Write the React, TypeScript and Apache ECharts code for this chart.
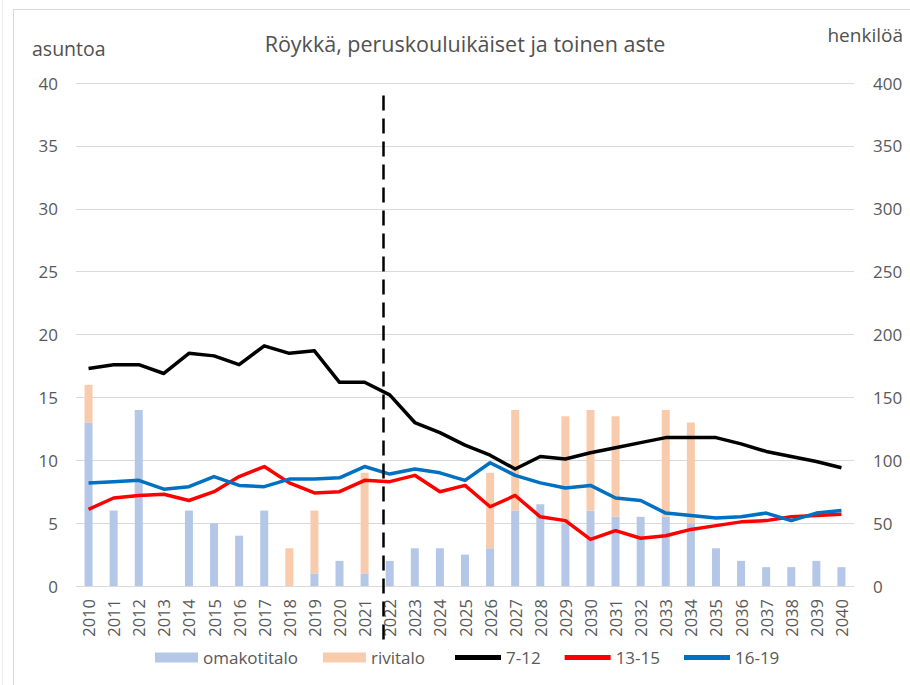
import React, { useEffect, useRef } from "react";
import * as echarts from "echarts";

const years = [
  "2010","2011","2012","2013","2014","2015","2016","2017","2018","2019","2020",
  "2021","2022","2023","2024","2025","2026","2027","2028","2029","2030",
  "2031","2032","2033","2034","2035","2036","2037","2038","2039","2040",
];

// left axis (asuntoa)
const omakotitalo = [13, 6, 14, 0, 6, 5, 4, 6, 0, 1, 2, 1, 2, 3, 3, 2.5, 3, 6, 6.5, 5, 6, 5.5, 5.5, 5.5, 5, 3, 2, 1.5, 1.5, 2, 1.5];
const rivitalo = [3, 0, 0, 0, 0, 0, 0, 0, 3, 5, 0, 8, 0, 0, 0, 0, 6, 8, 0, 8.5, 8, 8, 0, 8.5, 8, 0, 0, 0, 0, 0, 0];

// right axis (henkilöä)
const age7to12 = [173, 176, 176, 169, 185, 183, 176, 191, 185, 187, 162, 162, 152, 130, 122, 112, 104, 93, 103, 101, 106, 110, 114, 118, 118, 118, 113, 107, 103, 99, 94];
const age13to15 = [61, 70, 72, 73, 68, 75, 87, 95, 82, 74, 75, 84, 83, 88, 75, 80, 63, 72, 55, 52, 37, 44, 38, 40, 45, 48, 51, 52, 55, 56, 57];
const age16to19 = [82, 83, 84, 77, 79, 87, 80, 79, 85, 85, 86, 95, 89, 93, 90, 84, 98, 88, 82, 78, 80, 70, 68, 58, 56, 54, 55, 58, 52, 58, 60];

const leftTicks = { min: 0, max: 40, interval: 5 };
const rightTicks = { min: 0, max: 400, interval: 50 };

// forecast divider sits between 2021 and 2022
const dividerFrom = "2021";
const dividerTo = "2022";
const dividerFraction = 0.75;
const dividerTopValue = 39;

const titleText = "Röykkä, peruskouluikäiset ja toinen aste";
const leftAxisName = "asuntoa";
const rightAxisName = "henkilöä";

const FONT = "'Open Sans', 'Noto Sans', sans-serif";
const LABEL = "#595959";
const TITLE = "#505050";

export default function App() {
  const ref = useRef<HTMLDivElement>(null);

  useEffect(() => {
    if (!ref.current) return;
    const chart = echarts.init(ref.current, undefined, { renderer: "svg" });

    const legendText = { color: LABEL, fontSize: 17, fontFamily: FONT };

    const option: any = {
      animation: false,
      backgroundColor: "#ffffff",
      textStyle: { fontFamily: FONT },
      grid: { left: 76, right: 56, top: 83, bottom: 99, containLabel: false },
      legend: [
        {
          left: 155,
          top: 649,
          padding: 0,
          itemGap: 25,
          itemWidth: 43,
          itemHeight: 10,
          textStyle: legendText,
          data: [
            { name: "omakotitalo", icon: "rect" },
            { name: "rivitalo", icon: "rect" },
          ],
        },
        {
          left: 455,
          top: 649,
          padding: 0,
          itemGap: 24,
          itemWidth: 46,
          itemHeight: 5,
          textStyle: legendText,
          data: [
            { name: "7-12", icon: "rect" },
            { name: "13-15", icon: "rect" },
            { name: "16-19", icon: "rect" },
          ],
        },
      ],
      xAxis: {
        type: "category",
        data: years,
        axisTick: { show: false },
        axisLine: { show: true, lineStyle: { color: "#D9D9D9", width: 1 } },
        axisLabel: {
          rotate: 90,
          interval: 0,
          margin: 13,
          color: LABEL,
          fontSize: 16.5,
          fontFamily: FONT,
        },
      },
      yAxis: [
        {
          type: "value",
          ...leftTicks,
          axisLine: { show: false },
          axisTick: { show: false },
          axisLabel: { color: LABEL, fontSize: 17, margin: 18, fontFamily: FONT },
          splitLine: { lineStyle: { color: "#D9D9D9", width: 1 } },
        },
        {
          type: "value",
          ...rightTicks,
          position: "right",
          axisLine: { show: false },
          axisTick: { show: false },
          axisLabel: { color: LABEL, fontSize: 17, margin: 19, fontFamily: FONT },
          splitLine: { show: false },
        },
      ],
      series: [
        {
          name: "omakotitalo",
          type: "bar",
          stack: "asunnot",
          barWidth: 8,
          yAxisIndex: 0,
          itemStyle: { color: "#B4C7E7" },
          data: omakotitalo,
        },
        {
          name: "rivitalo",
          type: "bar",
          stack: "asunnot",
          barWidth: 8,
          yAxisIndex: 0,
          itemStyle: { color: "#F8CBAD" },
          data: rivitalo,
        },
        {
          name: "7-12",
          type: "line",
          yAxisIndex: 1,
          symbol: "none",
          lineStyle: { color: "#000000", width: 3.5, join: "round" },
          itemStyle: { color: "#000000" },
          data: age7to12,
        },
        {
          name: "13-15",
          type: "line",
          yAxisIndex: 1,
          symbol: "none",
          lineStyle: { color: "#FF0000", width: 3.5, join: "round" },
          itemStyle: { color: "#FF0000" },
          data: age13to15,
        },
        {
          name: "16-19",
          type: "line",
          yAxisIndex: 1,
          symbol: "none",
          lineStyle: { color: "#0070C0", width: 3.5, join: "round" },
          itemStyle: { color: "#0070C0" },
          data: age16to19,
        },
      ],
    };

    chart.setOption(option);

    const xa = chart.convertToPixel({ xAxisIndex: 0 }, dividerFrom) as number;
    const xb = chart.convertToPixel({ xAxisIndex: 0 }, dividerTo) as number;
    const xd = Math.round(xa + (xb - xa) * dividerFraction) + 0.5;
    const yTop = chart.convertToPixel({ yAxisIndex: 0 }, dividerTopValue) as number;

    chart.setOption({
      graphic: [
        {
          type: "rect",
          silent: true,
          shape: { x: 13.5, y: 9.5, width: 1000, height: 1000 },
          style: { fill: "none", stroke: "#D9D9D9", lineWidth: 1 },
        },
        {
          type: "line",
          silent: true,
          shape: { x1: 2.5, y1: 0, x2: 2.5, y2: 685 },
          style: { stroke: "#EAEAEA", lineWidth: 1 },
        },
        {
          type: "text",
          x: 465,
          y: 43.5,
          style: {
            text: titleText,
            fill: TITLE,
            fontSize: 21.5,
            fontFamily: FONT,
            align: "center",
            verticalAlign: "middle",
          },
        },
        {
          type: "text",
          x: 32,
          y: 48,
          style: {
            text: leftAxisName,
            fill: TITLE,
            fontSize: 19.5,
            fontFamily: FONT,
            align: "left",
            verticalAlign: "middle",
          },
        },
        {
          type: "text",
          x: 903,
          y: 35,
          style: {
            text: rightAxisName,
            fill: TITLE,
            fontSize: 19,
            fontFamily: FONT,
            align: "right",
            verticalAlign: "middle",
          },
        },
        {
          type: "line",
          silent: true,
          z: 100,
          shape: { x1: xd, y1: yTop, x2: xd, y2: 640 },
          style: { stroke: "#000000", lineWidth: 2.5, lineDash: [15, 8] },
        },
      ],
    });

    return () => chart.dispose();
  }, []);

  return (
    <div
      ref={ref}
      style={{ position: "absolute", left: 0, top: 0, width: 910, height: 685 }}
    />
  );
}
